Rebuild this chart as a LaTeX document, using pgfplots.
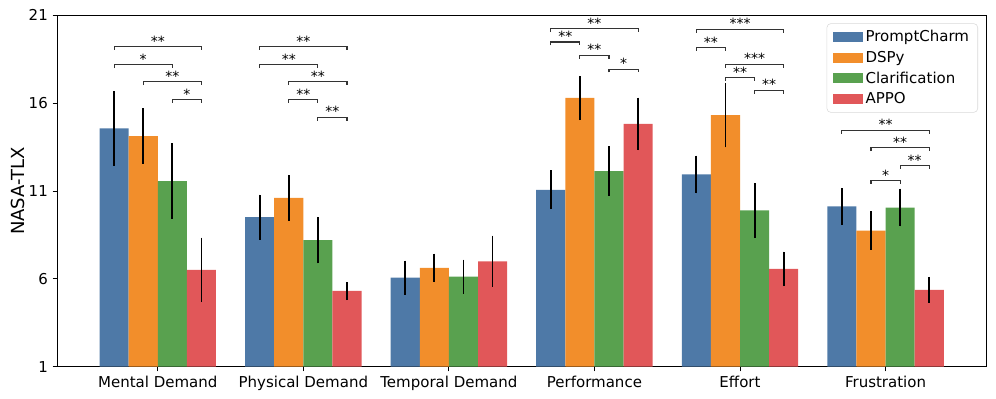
\documentclass[border=0pt]{standalone}
\usepackage{fontspec}
\setmainfont{DejaVu Sans}
\usepackage{pgfplots}
\pgfplotsset{compat=1.18}

\definecolor{cBlue}{HTML}{4E79A7}
\definecolor{cOrange}{HTML}{F28E2B}
\definecolor{cGreen}{HTML}{59A14F}
\definecolor{cRed}{HTML}{E15759}

% significance bracket: x1, x2, y, label
\newcommand{\sig}[4]{%
  \draw[line width=0.85pt, black!80] (axis cs:#1,#3) ++(0pt,-2.5pt) -- ++(0pt,2.5pt)
    -- node[anchor=base, yshift=0.3pt, inner sep=0pt, font=\fontsize{10.5}{12}\selectfont, black] {#4} (axis cs:#2,#3) -- ++(0pt,-2.5pt);}

\begin{document}
\begin{tikzpicture}
\begin{axis}[
  ybar, bar width=0.2,
  scale only axis, width=696.5pt, height=263.5pt,
  xmin=-0.69, xmax=5.69, ymin=1, ymax=21,
  ytick={1,6,11,16,21},
  xtick={0,1,2,3,4,5},
  xticklabels={Mental Demand, Physical Demand, Temporal Demand, Performance, Effort, Frustration},
  tick align=outside, xtick pos=bottom, ytick pos=left,
  major tick length=3.6pt,
  tick style={black, line width=0.6pt},
  axis line style={line width=0.6pt},
  ticklabel style={font=\fontsize{11.25}{13}\selectfont},
  /pgf/number format/assume math mode=true,
  ylabel={NASA-TLX},
  ylabel style={font=\fontsize{13.5}{15}\selectfont, at={(axis description cs:0,0.5)}, anchor=center, yshift=29.5pt},
  clip mode=individual,
  legend image code/.code={\fill[#1, sharp corners] (0pt,-3.75pt) rectangle (22.5pt,3.75pt);},
  legend style={at={(1,1)}, anchor=north east, xshift=-6pt, yshift=-6pt,
    draw=black!15, rounded corners=3pt, font=\fontsize{11.25}{13}\selectfont,
    inner xsep=4.5pt, inner ysep=3pt, row sep=1.6pt},
  legend cell align=left,
  error bars/y dir=both, error bars/y explicit,
  error bars/error mark=none,
  error bars/error bar style={line width=1.4pt, black},
]
\addplot[fill=cBlue, draw=none, bar shift=0pt] coordinates {
  (-0.3,14.57) +- (0,2.12)
  (0.7,9.51) +- (0,1.29)
  (1.7,6.07) +- (0,0.97)
  (2.7,11.07) +- (0,1.10)
  (3.7,11.94) +- (0,1.07)
  (4.7,10.12) +- (0,1.06)
};
\addplot[fill=cOrange, draw=none, bar shift=0pt] coordinates {
  (-0.1,14.12) +- (0,1.58)
  (0.9,10.61) +- (0,1.31)
  (1.9,6.62) +- (0,0.81)
  (2.9,16.30) +- (0,1.26)
  (3.9,15.32) +- (0,1.83)
  (4.9,8.75) +- (0,1.10)
};
\addplot[fill=cGreen, draw=none, bar shift=0pt] coordinates {
  (0.1,11.56) +- (0,2.15)
  (1.1,8.20) +- (0,1.32)
  (2.1,6.13) +- (0,0.97)
  (3.1,12.13) +- (0,1.41)
  (4.1,9.89) +- (0,1.57)
  (5.1,10.06) +- (0,1.07)
};
\addplot[fill=cRed, draw=none, bar shift=0pt] coordinates {
  (0.3,6.51) +- (0,1.83)
  (1.3,5.31) +- (0,0.52)
  (2.3,7.00) +- (0,1.46)
  (3.3,14.82) +- (0,1.49)
  (4.3,6.57) +- (0,0.98)
  (5.3,5.37) +- (0,0.74)
};
\legend{PromptCharm, DSPy, Clarification, APPO}

% Mental Demand
\sig{-0.3}{0.3}{19.22}{**}
\sig{-0.3}{0.1}{18.19}{*}
\sig{-0.1}{0.3}{17.22}{**}
\sig{0.1}{0.3}{16.21}{*}
% Physical Demand
\sig{0.7}{1.3}{19.22}{**}
\sig{0.7}{1.1}{18.19}{**}
\sig{0.9}{1.3}{17.22}{**}
\sig{0.9}{1.1}{16.20}{**}
\sig{1.1}{1.3}{15.20}{**}
% Performance
\sig{2.7}{3.3}{20.24}{**}
\sig{2.7}{2.9}{19.48}{**}
\sig{2.9}{3.1}{18.72}{**}
\sig{3.1}{3.3}{17.94}{*}
% Effort
\sig{3.7}{4.3}{20.20}{***}
\sig{3.7}{3.9}{19.16}{**}
\sig{3.9}{4.3}{18.21}{***}
\sig{3.9}{4.1}{17.45}{**}
\sig{4.1}{4.3}{16.73}{**}
% Frustration
\sig{4.7}{5.3}{14.46}{**}
\sig{4.9}{5.3}{13.46}{**}
\sig{5.1}{5.3}{12.45}{**}
\sig{4.9}{5.1}{11.60}{*}
\end{axis}
\path ([xshift=-43pt,yshift=-24.2pt]current axis.south west) rectangle ([xshift=7.5pt,yshift=11.5pt]current axis.north east);
\end{tikzpicture}
\end{document}
